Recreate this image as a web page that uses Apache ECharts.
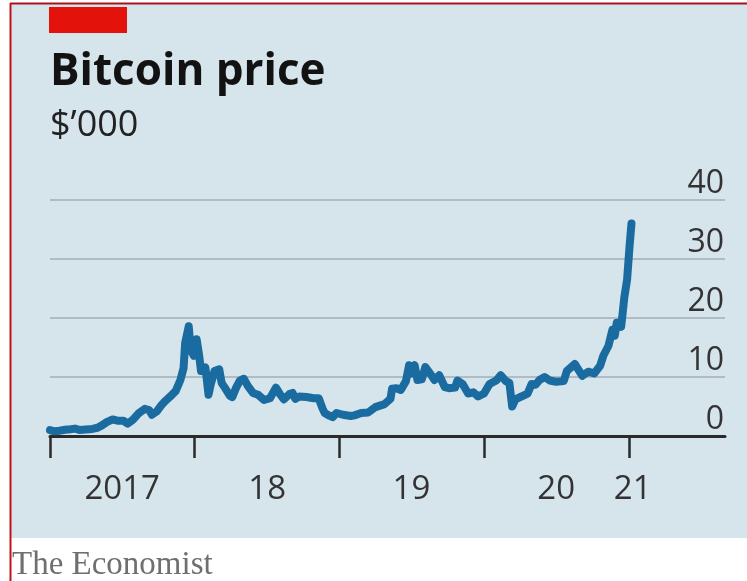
<!DOCTYPE html>
<html>
<head>
<meta charset="utf-8">
<script src="https://cdn.jsdelivr.net/npm/echarts@6/dist/echarts.min.js"></script>
<style>
html,body{margin:0;padding:0;background:#fff;}
#chart{width:747px;height:581px;}
</style>
</head>
<body>
<div id="chart"></div>
<script>
// Bitcoin price, $'000
const dates = [
'2017-01-01','2017-01-12','2017-01-25','2017-02-08','2017-02-22','2017-03-05','2017-03-18','2017-04-01','2017-04-18','2017-05-01',
'2017-05-12','2017-05-25','2017-06-08','2017-06-20','2017-07-05','2017-07-16','2017-07-30','2017-08-12','2017-08-28','2017-09-08',
'2017-09-15','2017-09-28','2017-10-10','2017-10-20','2017-11-05','2017-11-14','2017-11-26','2017-12-04','2017-12-08','2017-12-12',
'2017-12-17','2017-12-22','2017-12-30','2018-01-06','2018-01-12','2018-01-17','2018-01-28','2018-02-05','2018-02-10','2018-02-20',
'2018-03-04','2018-03-10','2018-03-18','2018-03-31','2018-04-06','2018-04-15','2018-04-25','2018-05-05','2018-05-15','2018-05-28',
'2018-06-10','2018-06-25','2018-07-10','2018-07-25','2018-08-05','2018-08-14','2018-08-28','2018-09-05','2018-09-12','2018-09-22',
'2018-10-10','2018-10-28','2018-11-10','2018-11-20','2018-11-25','2018-12-08','2018-12-15','2018-12-25','2019-01-10','2019-01-30',
'2019-02-08','2019-02-25','2019-03-15','2019-04-02','2019-04-25','2019-05-10','2019-05-14','2019-05-25','2019-06-05','2019-06-18',
'2019-06-26','2019-07-02','2019-07-10','2019-07-17','2019-07-28','2019-08-06','2019-08-20','2019-08-29','2019-09-10','2019-09-24',
'2019-10-05','2019-10-20','2019-10-26','2019-11-08','2019-11-22','2019-12-05','2019-12-17','2020-01-01','2020-01-15','2020-02-01',
'2020-02-12','2020-02-25','2020-03-05','2020-03-12','2020-03-20','2020-04-01','2020-04-20','2020-04-30','2020-05-10','2020-05-20',
'2020-06-02','2020-06-15','2020-07-01','2020-07-20','2020-07-28','2020-08-17','2020-09-05','2020-09-20','2020-10-05','2020-10-20',
'2020-10-28','2020-11-10','2020-11-20','2020-11-26','2020-12-01','2020-12-12','2020-12-16','2020-12-20','2020-12-27','2021-01-02',
'2021-01-07'
];
const prices = [
1.0,0.8,0.9,1.05,1.15,1.25,1.0,1.1,1.2,1.4,
1.8,2.4,2.8,2.6,2.6,2.1,2.8,3.8,4.6,4.4,
3.6,4.2,5.3,6.0,7.0,7.6,9.5,11.5,15.8,17.0,
18.6,14.6,13.6,16.4,13.8,11.0,11.6,7.0,8.6,11.0,
11.3,9.0,8.2,6.8,6.6,8.1,9.4,9.7,8.5,7.3,
7.0,6.1,6.4,8.2,7.0,6.2,7.1,7.3,6.3,6.7,
6.6,6.4,6.4,4.6,3.9,3.4,3.2,3.9,3.6,3.4,
3.5,3.9,4.0,4.9,5.4,6.3,8.0,8.1,7.8,9.3,
12.0,10.6,12.0,9.5,9.6,11.7,10.4,9.5,10.3,8.3,
8.1,8.2,9.4,8.8,7.2,7.4,6.7,7.2,8.8,9.4,
10.3,9.3,9.0,5.0,6.2,6.6,7.2,8.8,8.7,9.5,
10.0,9.4,9.2,9.3,11.0,12.2,10.2,10.9,10.6,11.9,
13.6,15.3,18.0,17.0,19.2,18.5,21.0,23.5,26.5,32.0,
36.0
];
const yTicks = [0, 10, 20, 30, 40];
const yearTicks = ['2017-01-01','2018-01-01','2019-01-01','2020-01-01','2021-01-01'];
const xLabelDates = ['2017-07-02','2018-07-03','2019-07-02','2020-07-01','2021-01-10'];
const xLabelText = ['2017','18','19','20','21'];

const ts = d => new Date(d + 'T00:00:00Z').getTime();
const lineData = dates.map((d, i) => [ts(d), prices[i]]);
const labelMap = {};
xLabelDates.forEach((d, i) => { labelMap[ts(d)] = xLabelText[i]; });

const chart = echarts.init(document.getElementById('chart'), null, {renderer: 'canvas'});
chart.setOption({
  backgroundColor: '#ffffff',
  animation: false,
  title: [
    {text: 'Bitcoin price', left: 50, top: 50, padding: 0,
     textStyle: {fontFamily: 'Open Sans', fontWeight: 'bold', fontSize: 44, color: '#121212'}},
    {text: '$\u2019000', left: 50, top: 108, padding: 0,
     textStyle: {fontFamily: 'Open Sans', fontWeight: 'normal', fontSize: 36, color: '#222'}}
  ],
  graphic: [
    {type: 'rect', z: -10, silent: true, shape: {x: 11, y: 4, width: 736, height: 534}, style: {fill: '#d6e4ec'}},
    {type: 'line', z: 100, silent: true, shape: {x1: 10, y1: 3.5, x2: 747, y2: 3.5}, style: {stroke: '#a8141a', lineWidth: 2}},
    {type: 'line', z: 100, silent: true, shape: {x1: 10.5, y1: 3, x2: 10.5, y2: 581}, style: {stroke: '#c0141a', lineWidth: 2}},
    {type: 'rect', z: 100, silent: true, shape: {x: 49, y: 7, width: 78, height: 26}, style: {fill: '#e3120b'}},
    {type: 'text', z: 100, silent: true, x: 12, y: 549,
     style: {text: 'The Economist', font: '33px "Liberation Serif"', fill: '#6f6f6f'}}
  ],
  grid: {left: 50, right: 22, top: 200, bottom: 145, containLabel: false},
  xAxis: {
    type: 'value',
    min: ts('2017-01-01'),
    max: ts('2021-08-31'),
    axisLine: {show: true, lineStyle: {color: '#2a2a2a', width: 3}},
    axisTick: {show: true, length: 22, lineStyle: {color: '#2a2a2a', width: 2.5},
      customValues: yearTicks.map(ts)},
    axisLabel: {
      customValues: xLabelDates.map(ts),
      formatter: v => labelMap[v] || '',
      margin: 37,
      fontFamily: 'Open Sans', fontSize: 33, color: '#333'
    },
    splitLine: {show: false}
  },
  yAxis: {
    type: 'value',
    position: 'right',
    min: 0, max: 40, interval: 10,
    axisLine: {show: false},
    axisTick: {show: false},
    axisLabel: {
      inside: true, margin: 1, verticalAlign: 'bottom',
      padding: [0, 0, 0, 0], lineHeight: 32,
      fontFamily: 'Open Sans', fontSize: 32, color: '#333',
      formatter: v => yTicks.indexOf(v) >= 0 ? String(v) : ''
    },
    splitLine: {show: true, lineStyle: {color: '#b0bcc4', width: 2}}
  },
  series: [{
    type: 'line',
    data: lineData,
    showSymbol: false,
    smooth: false,
    lineStyle: {color: '#1a6ca0', width: 8, join: 'round', cap: 'round'},
    z: 5
  }]
});
</script>
</body>
</html>
